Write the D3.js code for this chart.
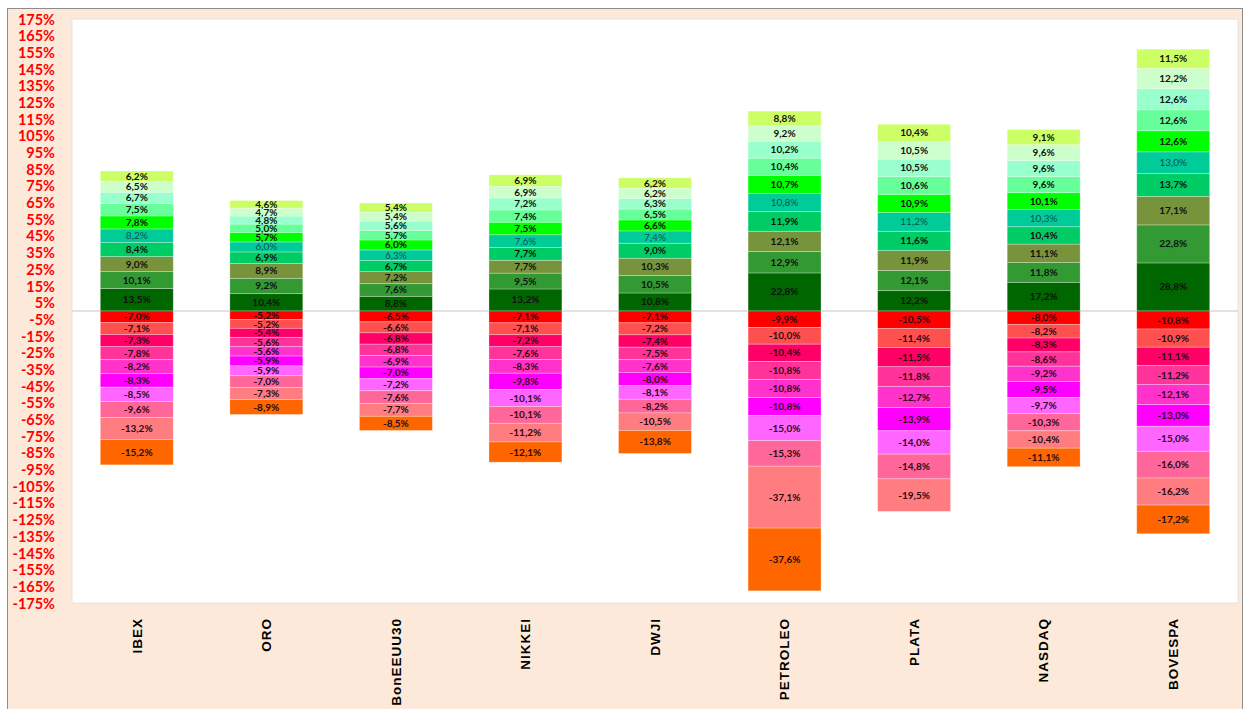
<!DOCTYPE html>
<html>
<head>
<meta charset="utf-8">
<script src="https://cdn.jsdelivr.net/npm/d3@7"></script>
<style>
  html, body { margin: 0; padding: 0; background: #fff; }
  svg { display: block; }
</style>
</head>
<body>
<script>
const categories = ["IBEX", "ORO", "BonEEUU30", "NIKKEI", "DWJI", "PETROLEO", "PLATA", "NASDAQ", "BOVESPA"];

// Positive stack, bottom (closest to zero) to top
const posIBEX      = [13.5, 10.1, 9.0, 8.4, 8.2, 7.8, 7.5, 6.7, 6.5, 6.2];
const posORO       = [10.4, 9.2, 8.9, 6.9, 6.0, 5.7, 5.0, 4.8, 4.7, 4.6];
const posBonEEUU30 = [8.8, 7.6, 7.2, 6.7, 6.3, 6.0, 5.7, 5.6, 5.4, 5.4];
const posNIKKEI    = [13.2, 9.5, 7.7, 7.7, 7.6, 7.5, 7.4, 7.2, 6.9, 6.9];
const posDWJI      = [10.8, 10.5, 10.3, 9.0, 7.4, 6.6, 6.5, 6.3, 6.2, 6.2];
const posPETROLEO  = [22.8, 12.9, 12.1, 11.9, 10.8, 10.7, 10.4, 10.2, 9.2, 8.8];
const posPLATA     = [12.2, 12.1, 11.9, 11.6, 11.2, 10.9, 10.6, 10.5, 10.5, 10.4];
const posNASDAQ    = [17.2, 11.8, 11.1, 10.4, 10.3, 10.1, 9.6, 9.6, 9.6, 9.1];
const posBOVESPA   = [28.8, 22.8, 17.1, 13.7, 13.0, 12.6, 12.6, 12.6, 12.2, 11.5];

// Negative stack, top (closest to zero) to bottom
const negIBEX      = [-7.0, -7.1, -7.3, -7.8, -8.2, -8.3, -8.5, -9.6, -13.2, -15.2];
const negORO       = [-5.2, -5.2, -5.4, -5.6, -5.6, -5.9, -5.9, -7.0, -7.3, -8.9];
const negBonEEUU30 = [-6.5, -6.6, -6.8, -6.8, -6.9, -7.0, -7.2, -7.6, -7.7, -8.5];
const negNIKKEI    = [-7.1, -7.1, -7.2, -7.6, -8.3, -9.8, -10.1, -10.1, -11.2, -12.1];
const negDWJI      = [-7.1, -7.2, -7.4, -7.5, -7.6, -8.0, -8.1, -8.2, -10.5, -13.8];
const negPETROLEO  = [-9.9, -10.0, -10.4, -10.8, -10.8, -10.8, -15.0, -15.3, -37.1, -37.6];
const negPLATA     = [-10.5, -11.4, -11.5, -11.8, -12.7, -13.9, -14.0, -14.8, -19.5, 0];
const negNASDAQ    = [-8.0, -8.2, -8.3, -8.6, -9.2, -9.5, -9.7, -10.3, -10.4, -11.1];
const negBOVESPA   = [-10.8, -10.9, -11.1, -11.2, -12.1, -13.0, -15.0, -16.0, -16.2, -17.2];

const yTicks = [175,165,155,145,135,125,115,105,95,85,75,65,55,45,35,25,15,5,-5,-15,-25,-35,-45,-55,-65,-75,-85,-95,-105,-115,-125,-135,-145,-155,-165,-175];

const posColors = ["#006600", "#339933", "#77933C", "#00CC66", "#00CC99", "#00FF00", "#66FF99", "#99FFCC", "#CCFFCC", "#CCFF66"];
const negColors = ["#FF0000", "#FF5050", "#FF0066", "#FF3399", "#FF33CC", "#FF00FF", "#FF66FF", "#FF6699", "#FF7C80", "#FF6600"];

const posData = [posIBEX, posORO, posBonEEUU30, posNIKKEI, posDWJI, posPETROLEO, posPLATA, posNASDAQ, posBOVESPA];
const negData = [negIBEX, negORO, negBonEEUU30, negNIKKEI, negDWJI, negPETROLEO, negPLATA, negNASDAQ, negBOVESPA];

const W = 1243, H = 709;
const plot = {x0: 72, x1: 1238, y0: 19, y1: 603};

const svg = d3.select("body").append("svg").attr("width", W).attr("height", H);

svg.append("rect").attr("x", 0).attr("y", 0).attr("width", W).attr("height", H).attr("fill", "#ffffff");
svg.append("rect").attr("x", 7.5).attr("y", 8.5).attr("width", W - 8).attr("height", H).attr("fill", "#FDE9D9").attr("stroke", "#8c8c8c").attr("stroke-width", 1);

svg.append("rect").attr("x", plot.x0).attr("y", plot.y0).attr("width", plot.x1 - plot.x0).attr("height", plot.y1 - plot.y0)
  .attr("fill", "#ffffff").attr("stroke", "#e3e3e3").attr("stroke-width", 1);

const x = d3.scaleBand().domain(categories).range([plot.x0, plot.x1]).paddingInner(0.437).paddingOuter(0.2185);
const y = d3.scaleLinear().domain([-175, 175]).range([plot.y1, plot.y0]);

// zero line
svg.append("line").attr("x1", plot.x0).attr("x2", plot.x1).attr("y1", y(0)).attr("y2", y(0))
  .attr("stroke", "#d9d9d9").attr("stroke-width", 1.5);

// y axis
const yAxis = d3.axisLeft(y).tickValues(yTicks).tickSize(0).tickPadding(0).tickFormat(d => d + "%");
const gy = svg.append("g").attr("transform", `translate(55,0)`).call(yAxis);
gy.select(".domain").remove();
gy.selectAll("text").attr("fill", "#FF0000").attr("font-family", "Lato, 'Open Sans', sans-serif")
  .attr("font-weight", "bold").attr("font-size", "14.5px").attr("dy", "0.35em");

// x axis labels
const xAxis = d3.axisBottom(x).tickSize(0).tickPadding(0);
const gx = svg.append("g").attr("transform", `translate(0,${plot.y1})`).call(xAxis);
gx.select(".domain").remove();
gx.selectAll("text")
  .attr("transform", "rotate(-90)")
  .attr("text-anchor", "end")
  .attr("x", -15)
  .attr("y", 0)
  .attr("dy", "0.35em")
  .attr("fill", "#000")
  .attr("font-family", "'Liberation Sans', Arial, sans-serif")
  .attr("font-weight", "bold")
  .attr("font-size", "13.5px")
  .attr("letter-spacing", "1px");

// build segments
const segs = [];
categories.forEach((c, i) => {
  let acc = 0;
  posData[i].forEach((v, k) => {
    segs.push({cat: c, y0: acc, y1: acc + v, v: v, color: posColors[k], k: k, pos: true});
    acc += v;
  });
  acc = 0;
  negData[i].forEach((v, k) => {
    if (v === 0) return;
    segs.push({cat: c, y0: acc, y1: acc + v, v: v, color: negColors[k], k: k, pos: false});
    acc += v;
  });
});

const fmt = v => v.toFixed(1).replace(".", ",") + "%";

svg.append("g").selectAll("rect").data(segs).join("rect")
  .attr("x", d => x(d.cat))
  .attr("width", x.bandwidth())
  .attr("y", d => y(Math.max(d.y0, d.y1)))
  .attr("height", d => Math.abs(y(d.y0) - y(d.y1)))
  .attr("fill", d => d.color)
  .attr("stroke", "rgba(255,255,255,0.35)")
  .attr("stroke-width", 0.8);

svg.append("g").selectAll("text").data(segs).join("text")
  .attr("x", d => x(d.cat) + x.bandwidth() / 2)
  .attr("y", d => y((d.y0 + d.y1) / 2))
  .attr("dy", "0.35em")
  .attr("text-anchor", "middle")
  .attr("font-family", "Lato, 'Open Sans', sans-serif")
  .attr("font-size", "10px")
  .attr("font-weight", d => (d.pos && d.k === 4) ? "normal" : "bold")
  .attr("fill", d => (d.pos && d.k === 4) ? "#0a5252" : (d.pos ? "#111" : "#2a0a14"))
  .text(d => fmt(d.v));
</script>
</body>
</html>
